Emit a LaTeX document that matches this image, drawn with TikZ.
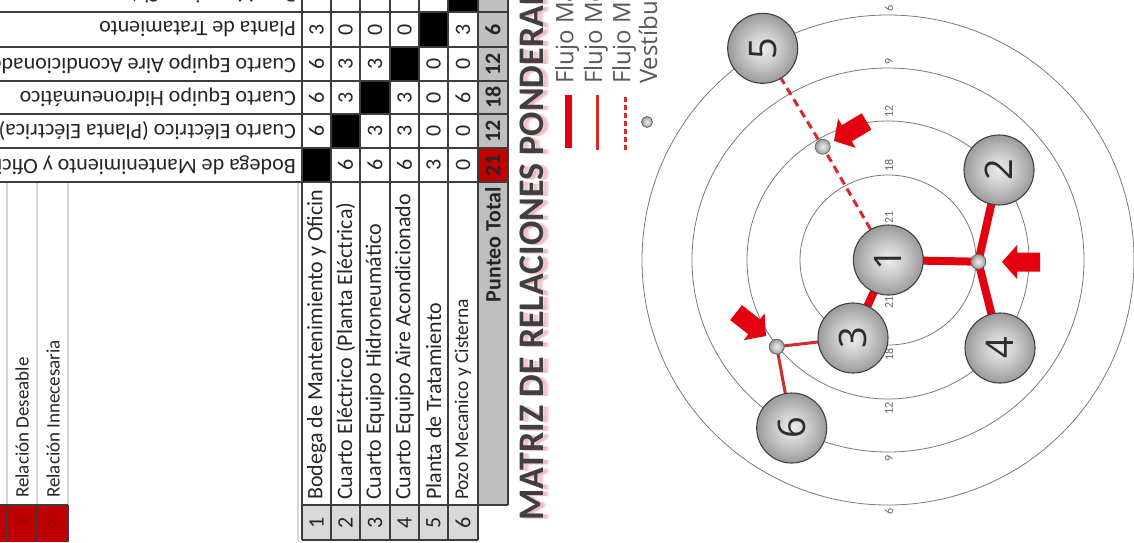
\documentclass[tikz,border=0pt]{standalone}
\usepackage{fontspec}
\setmainfont{Carlito}
\newfontfamily\osans{Open Sans}
\usetikzlibrary{backgrounds}
\definecolor{flowred}{HTML}{E3000F}
\definecolor{flowredB}{HTML}{D42A2A}
\definecolor{gridc}{HTML}{3C3C3C}
\definecolor{cellred}{HTML}{C00000}
\definecolor{totgray}{HTML}{BFBFBF}
\definecolor{numgray}{HTML}{D9D9D9}
\definecolor{titlec}{HTML}{3F3F3F}
\definecolor{glow}{HTML}{E9A3AE}
\pgfdeclareradialshading{sphere}{\pgfpoint{0bp}{0bp}}{color(0bp)=(black!8); color(10bp)=(black!18); color(24bp)=(black!38); color(38bp)=(black!56); color(50bp)=(black!74); color(72bp)=(black!74)}
\begin{document}
\begin{tikzpicture}[x=1pt,y=-1pt,
  cell/.style={rotate=90, inner sep=0, font=\fontsize{22}{26}\selectfont, text=black!85},
  rowlab/.style={rotate=90, anchor=west, inner sep=0, font=\fontsize{22}{26}\selectfont, text=black!85},
  colhead/.style={rotate=180, anchor=west, inner sep=0, font=\fontsize{22}{26}\selectfont, text=black!85},
  grid/.style={draw=gridc, line width=1.6},
  room/.style={circle, minimum size=70pt, inner sep=0, shade, shading=sphere, draw=black!75, line width=1.1, rotate=90, font=\osans\fontsize{38}{38}\selectfont, text=black!82},
  vest/.style={circle, minimum size=15pt, inner sep=0, shade, shading=sphere, draw=black!60, line width=0.8},
  flowA/.style={line width=8, draw=flowred},
  flowB/.style={line width=3, draw=flowredB},
  flowC/.style={line width=3, draw=flowredB, dash pattern=on 8 off 5},
  ringlab/.style={rotate=90, inner sep=0, font=\fontsize{12}{12}\selectfont, text=black!60},
  ring/.style={draw=black!52, line width=0.8},
  legtext/.style={rotate=90, anchor=west, inner sep=0, font=\osans\fontsize{24}{26}\selectfont, text=black!65},
  titlestyle/.style={rotate=90, anchor=west, inner sep=0, font=\bfseries\fontsize{36}{40}\selectfont}
]
\useasboundingbox (0,0) rectangle (1134,542);
\begin{scope}[on background layer]
  \fill[white] (0,0) rectangle (1134,542);
\end{scope}
\clip (0,0) rectangle (1134,542);

% ---------- table fills ----------
\fill[totgray] (478,-22) rectangle (508,505);
\fill[cellred] (478,148) rectangle (508,182);
\fill[numgray] (302,505) rectangle (478,540);
\fill[black] (302,148) rectangle (331,182) (331,114) rectangle (360,148)
  (360,81) rectangle (390,114) (390,47) rectangle (419,81)
  (419,12) rectangle (448,47) (448,-22) rectangle (478,12);
\fill[cellred] (0,505) rectangle (68,542);

% light spreadsheet lines
\draw[black!16, line width=1.5] (7,182) -- (7,505) (37,182) -- (37,505) (68,182) -- (68,542) (298,182) -- (298,542);
\draw[gridc, line width=1.2] (0,505) -- (68,505) (7,505) -- (7,542) (37,505) -- (37,542) (68,505) -- (68,542);

% main grid
\foreach \x in {302,331,360,390,419,448,478} \draw[grid] (\x,-22) -- (\x,540);
\draw[grid] (508,-22) -- (508,505);
\foreach \y in {12,47,81,114,148,182} \draw[grid] (0,\y) -- (508,\y);
\draw[grid] (302,505) -- (508,505);
\draw[grid] (302,540) -- (478,540);

% column headers
\node[colhead] (h1) at (296,165) {Bodega de Mantenimiento y Oficin};
\node[colhead] (h2) at (296,131) {Cuarto Eléctrico (Planta Eléctrica)};
\node[colhead] (h3) at (296,97.5) {Cuarto Equipo Hidroneumático};
\node[colhead] (h4) at (296,64) {Cuarto Equipo Aire Acondicionado};
\node[colhead] (h5) at (296,29.5) {Planta de Tratamiento};
\node[colhead, font=\fontsize{19.5}{24}\selectfont] (h6) at (296,-5) {Pozo Mecanico y Cisterna};

% row labels
\node[rowlab] (r1) at (316.5,500) {Bodega de Mantenimiento y Oficin};
\node[rowlab] (r2) at (345.5,500) {Cuarto Eléctrico (Planta Eléctrica)};
\node[rowlab] (r3) at (375,500) {Cuarto Equipo Hidroneumático};
\node[rowlab] (r4) at (404.5,500) {Cuarto Equipo Aire Acondicionado};
\node[rowlab] (r5) at (433.5,500) {Planta de Tratamiento};
\node[rowlab, font=\fontsize{19.5}{24}\selectfont] (r6) at (463,500) {Pozo Mecanico y Cisterna};

% row numbers
\foreach \x/\n in {316.5/1,345.5/2,375/3,404.5/4,433.5/5,463/6}
  \node[cell] (num\n) at (\x,523) {\n};

% matrix values
\foreach \x/\y/\v in {
  316.5/131/6, 316.5/97.5/6, 316.5/64/6, 316.5/29.5/3, 316.5/-5/0,
  345.5/165/6, 345.5/97.5/3, 345.5/64/3, 345.5/29.5/0, 345.5/-5/0,
  375/165/6, 375/131/3, 375/64/3, 375/29.5/0, 375/-5/6,
  404.5/165/6, 404.5/131/3, 404.5/97.5/3, 404.5/29.5/0, 404.5/-5/0,
  433.5/165/3, 433.5/131/0, 433.5/97.5/0, 433.5/64/0, 433.5/-5/3,
  463/165/0, 463/131/0, 463/97.5/6, 463/64/0, 463/29.5/3}
  \node[cell] at (\x,\y) {\v};

% totals
\node[rotate=90, anchor=east, inner sep=0, font=\bfseries\fontsize{22}{26}\selectfont, text=black!85] (pt) at (493,187) {Punteo Total};
\foreach \y/\v in {165/21,131/12,97.5/18,64/12,29.5/6,-5/9}
  \node[cell, font=\bfseries\fontsize{22}{26}\selectfont] at (493,\y) {\v};

% left legend
\node[rowlab, font=\fontsize{19}{22}\selectfont] (ld) at (22,498) {Relación Deseable};
\node[rowlab, font=\fontsize{19}{22}\selectfont] (li) at (53,498) {Relación Innecesaria};
\node[cell, font=\fontsize{12}{12}\selectfont, text=red!45!black] (l3) at (22,523.5) {3};
\node[cell, font=\fontsize{12}{12}\selectfont, text=red!45!black] (l0) at (52.5,523.5) {0};

% title
\foreach \dx/\op in {6/0.25, 4.5/0.35, 3/0.45}
  \node[titlestyle, text=glow, opacity=\op] at ({532+\dx},522) {MATRIZ DE RELACIONES PONDERADAS};
\node[titlestyle, text=titlec] (title) at (532,521) {MATRIZ DE RELACIONES PONDERADAS};

% flow legend
\draw[line width=7, draw=flowred] (568.5,95) -- (568.5,148);
\draw[flowB] (597,95) -- (597,150);
\draw[line width=3, draw=flowredB, dash pattern=on 5 off 3] (625,97) -- (625,150);
\node[vest, minimum size=11pt] (lv) at (647,122) {};
\node[legtext] (t1) at (567,84) {Flujo Máximo};
\node[legtext] (t2) at (596,84) {Flujo Medio};
\node[legtext] (t3) at (624,84) {Flujo Mínimo};
\node[legtext] (t4) at (648,84) {Vestíbulo};

% ---------- diagram ----------
\begin{scope}[on background layer]
  \draw[ring] (888,260) ellipse [x radius=88, y radius=85];
  \draw[ring] (888,260) ellipse [x radius=141, y radius=139];
  \draw[ring] (888,260) ellipse [x radius=196, y radius=192];
  \draw[ring] (888,260) ellipse [x radius=246, y radius=245];
\end{scope}
\foreach \r/\l in {33/21,85/18,139/12,192/9,245/6} {
  \node[ringlab, anchor=west] at (889,{260-\r-3}) {\l};
  \node[ringlab, anchor=east] at (889,{260+\r+3}) {\l};
}

\node[room] (n1) at (888.3,260) {1};
\node[room] (n2) at (999,170) {2};
\node[room] (n3) at (853,338) {3};
\node[room] (n4) at (1000,348) {4};
\node[room] (n5) at (762.7,48.3) {5};
\node[room] (n6) at (791.7,428) {6};
\node[vest] (v1) at (822.7,146.7) {};
\node[vest] (v2) at (978.3,261.7) {};
\node[vest] (v3) at (776.7,346.7) {};

\begin{scope}[on background layer]
  \draw[flowA] (n1.center) -- (v2.center);
  \draw[flowA] (v2.center) -- (n2.center);
  \draw[flowA] (v2.center) -- (n4.center);
  \draw[flowA] (n1.center) -- (n3.center);
  \draw[flowB] (v3.center) -- (n3.center);
  \draw[flowB] (v3.center) -- (n6.center);
  \draw[flowC] (n1) -- (v1.center) -- (n5);
\end{scope}

% entrance arrows
\foreach \tx/\ty/\ang in {1002/262/180, 834/141/211, 766/336/-38}
  \fill[flowred, shift={(\tx,\ty)}, rotate=\ang] (0,0) -- (-15,-17) -- (-15,-9.5) -- (-38,-9.5) -- (-38,9.5) -- (-15,9.5) -- (-15,17) -- cycle;
\end{tikzpicture}
\end{document}
